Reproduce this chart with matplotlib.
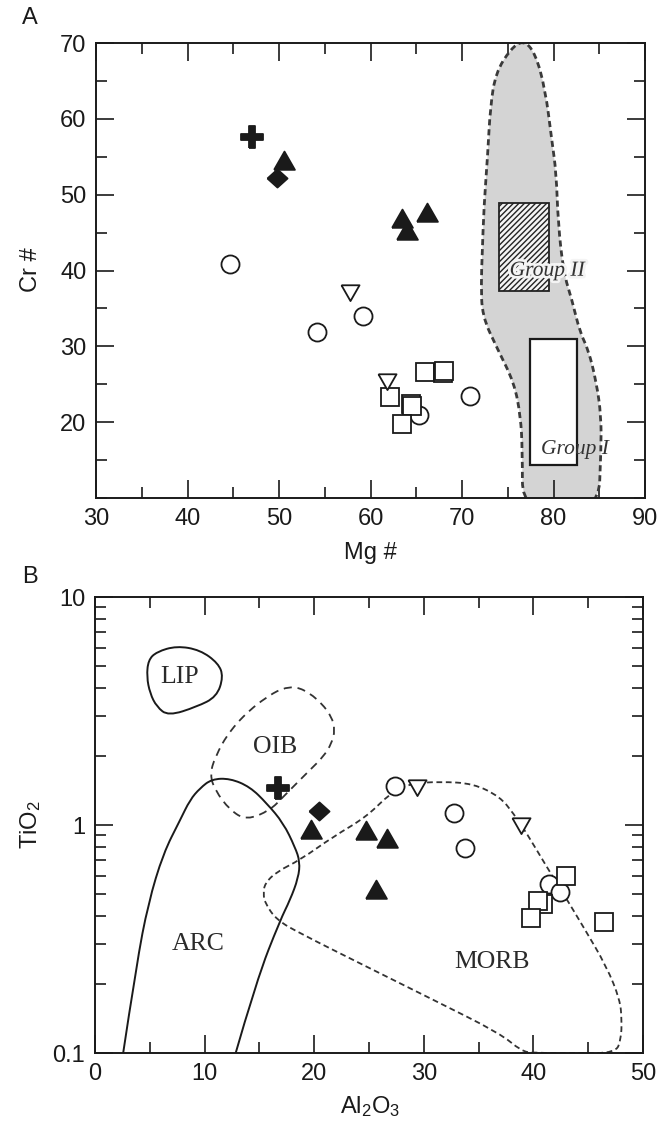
import numpy as np
import matplotlib
matplotlib.use("Agg")
import matplotlib.pyplot as plt
from matplotlib.path import Path
from matplotlib.patches import PathPatch, Rectangle
from matplotlib.ticker import FixedLocator, FixedFormatter, MultipleLocator
import matplotlib.patheffects as pe

plt.rcParams['font.family'] = ['Liberation Sans', 'DejaVu Sans']
plt.rcParams['mathtext.fontset'] = 'custom'
plt.rcParams['mathtext.rm'] = 'Liberation Sans'
plt.rcParams['mathtext.it'] = 'Liberation Sans:italic'
plt.rcParams['hatch.linewidth'] = 1.0

# ---------------- Panel A data (Mg#, Cr#) ----------------
a_circle_mg = [44.6, 54.1, 59.2, 65.3, 70.9]
a_circle_cr = [40.8, 31.9, 34.0, 21.0, 23.4]
a_square_mg = [64.4, 64.5, 62.1, 63.4, 66.0, 67.9, 68.0]
a_square_cr = [22.4, 22.1, 23.3, 19.7, 26.6, 26.5, 26.8]
a_invtri_mg = [57.8, 61.8]
a_invtri_cr = [37.1, 25.4]
a_tri_mg = [50.6, 63.4, 66.2, 64.0]
a_tri_cr = [54.4, 46.8, 47.6, 45.2]
a_diam_mg = [49.8]
a_diam_cr = [52.2]
a_cross_mg = [47.1]
a_cross_cr = [57.6]

# peridotite field (outline)
field_mg = [76.6, 76.6, 76.4, 75.7, 73.9, 72.2, 72.1, 72.2, 72.4, 72.8, 73.1, 73.7, 75.3,
            76.7, 78.0, 79.1, 79.8, 80.3, 80.5, 81.1, 82.0, 82.9, 83.8, 84.7, 85.2, 85.2, 84.9]
field_cr = [8.0, 16.4, 20.8, 25.2, 29.6, 34.0, 38.4, 41.9, 48.5, 55.1, 61.7, 66.1, 69.2,
            70.4, 68.7, 63.9, 57.3, 52.9, 46.3, 39.7, 36.2, 31.8, 29.6, 25.2, 20.8, 16.4, 8.0]
group2_mg = [74.0, 79.5]
group2_cr = [37.3, 48.9]
group1_mg = [77.4, 82.6]
group1_cr = [14.3, 31.0]

# ---------------- Panel B data (Al2O3, TiO2) ----------------
b_cross_al = [16.7]
b_cross_ti = [1.46]
b_diam_al = [20.4]
b_diam_ti = [1.15]
b_tri_al = [19.75, 24.7, 26.6, 25.6]
b_tri_ti = [0.95, 0.94, 0.866, 0.52]
b_circle_al = [27.4, 32.8, 33.8, 41.4, 42.4]
b_circle_ti = [1.48, 1.125, 0.79, 0.55, 0.51]
b_invtri_al = [29.35, 38.9]
b_invtri_ti = [1.47, 1.0]
b_square_al = [43.0, 40.85, 40.4, 39.75, 46.4]
b_square_ti = [0.60, 0.45, 0.466, 0.39, 0.377]

lip_al = [4.86, 5.63, 7.45, 9.58, 11.25, 11.71, 11.10, 9.28, 6.69, 5.63, 5.02, 4.72]
lip_ti = [5.29, 5.75, 6.10, 5.86, 5.12, 4.47, 3.65, 3.30, 3.01, 3.30, 3.78, 4.47]
oib_al = [10.49, 10.95, 12.32, 14.75, 17.79, 20.23, 22.05, 21.44, 19.0, 17.18, 15.97, 13.84, 12.32, 10.95]
oib_ti = [1.66, 1.99, 2.61, 3.42, 4.18, 3.65, 2.79, 2.13, 1.63, 1.33, 1.16, 1.05, 1.16, 1.42]
arc_al = [2.5, 3.80, 4.86, 6.23, 7.76, 8.67, 9.58, 10.65, 12.32, 14.14, 15.67, 17.18,
          18.25, 18.7, 18.55, 17.8, 16.9, 14.75, 12.7]
arc_ti = [0.095, 0.247, 0.454, 0.751, 1.05, 1.29, 1.45, 1.59, 1.60, 1.47, 1.245, 1.02,
          0.80, 0.69, 0.586, 0.469, 0.383, 0.209, 0.095]
morb_al = [16.58, 15.5, 15.36, 15.51, 16.58, 18.70, 24.79, 30.87, 36.95, 38.9, 40.0, 44.0,
           47.5, 48.0, 48.06, 47.9, 46.69, 44.55, 42.73, 41.21, 39.39, 38.17, 36.95, 34.52,
           31.48, 28.74, 26.92, 24.79, 21.74, 18.70]
morb_ti = [0.624, 0.555, 0.50, 0.454, 0.383, 0.335, 0.239, 0.171, 0.122, 0.102, 0.1, 0.1,
           0.1, 0.115, 0.14, 0.171, 0.239, 0.358, 0.50, 0.656, 0.92, 1.125, 1.33, 1.52,
           1.55, 1.52, 1.377, 1.087, 0.889, 0.702]

regions_txt = {'LIP': (7.7, 4.44), 'OIB': (16.4, 2.20), 'ARC': (9.4, 0.30), 'MORB': (36.2, 0.25)}

# ---------------- helpers ----------------
def mid(p, q, logy):
    if logy:
        return ((p[0] + q[0]) / 2, np.sqrt(p[1] * q[1]))
    return ((p[0] + q[0]) / 2, (p[1] + q[1]) / 2)

def smooth_path(xs, ys, closed=True, logy=False):
    pts = list(zip(xs, ys))
    n = len(pts)
    verts, codes = [], []
    if closed:
        mids = [mid(pts[i], pts[(i + 1) % n], logy) for i in range(n)]
        verts.append(mids[-1]); codes.append(Path.MOVETO)
        for i in range(n):
            verts += [pts[i], mids[i]]; codes += [Path.CURVE3, Path.CURVE3]
    else:
        verts.append(pts[0]); codes.append(Path.MOVETO)
        for i in range(1, n - 1):
            end = pts[i + 1] if i == n - 2 else mid(pts[i], pts[i + 1], logy)
            verts += [pts[i], end]; codes += [Path.CURVE3, Path.CURVE3]
    return Path(verts, codes)

s = 0.28
cross_m = [(-s, -1), (s, -1), (s, -s), (1, -s), (1, s), (s, s), (s, 1), (-s, 1), (-s, s), (-1, s), (-1, -s), (-s, -s), (-s, -1)]
tri_up = [(-1, -0.8), (1, -0.8), (0, 0.95), (-1, -0.8)]
tri_dn = [(-1, 0.8), (1, 0.8), (0, -0.95), (-1, 0.8)]
diam_m = [(-1, 0), (0, -0.9), (1, 0), (0, 0.9), (-1, 0)]

INK = '#1a1a1a'

def draw_markers(ax, sets):
    for xs, ys, mk, ms, fc in sets:
        ax.plot(xs, ys, linestyle='none', marker=mk, markersize=ms,
                markerfacecolor=fc, markeredgecolor=INK, markeredgewidth=1.3, zorder=5)

def style_axes(ax):
    for sp in ax.spines.values():
        sp.set_linewidth(1.4); sp.set_color(INK)
    ax.tick_params(which='both', direction='in', top=True, right=True, width=1.2,
                   colors=INK, labelsize=17, pad=7)
    ax.tick_params(which='major', length=13)
    ax.tick_params(which='minor', length=8)

fig = plt.figure(figsize=(6.59, 11.28), dpi=100)
W, H = 659.0, 1128.0

# ---------------- Panel A ----------------
axA = fig.add_axes([96 / W, 1 - 498 / H, 549 / W, 455 / H])
axA.set_xlim(30, 90)
axA.set_ylim(10, 70)
axA.xaxis.set_major_locator(MultipleLocator(10))
axA.xaxis.set_minor_locator(MultipleLocator(5))
axA.yaxis.set_major_locator(FixedLocator([20, 30, 40, 50, 60, 70]))
axA.yaxis.set_minor_locator(MultipleLocator(5))
style_axes(axA)

fpath = smooth_path(field_mg, field_cr, closed=True)
axA.add_patch(PathPatch(fpath, facecolor='#d4d4d4', edgecolor='none', zorder=1))
axA.add_patch(PathPatch(fpath, facecolor='none', edgecolor='#3a3a3a', lw=2.0,
                        linestyle=(0, (2.2, 1.4)), zorder=2))
axA.add_patch(Rectangle((group2_mg[0], group2_cr[0]), group2_mg[1] - group2_mg[0],
                        group2_cr[1] - group2_cr[0], facecolor='#f4f4f4', edgecolor='#222222',
                        hatch='//////', lw=1.3, zorder=3))
axA.add_patch(Rectangle((group1_mg[0], group1_cr[0]), group1_mg[1] - group1_mg[0],
                        group1_cr[1] - group1_cr[0], facecolor='white', edgecolor=INK,
                        lw=1.6, zorder=3))
halo = [pe.withStroke(linewidth=4, foreground='#f4f4f4')]
axA.text(79.3, 39.9, 'Group II', family=['Liberation Serif'], style='italic', fontsize=15.5,
         color='#333333', ha='center', va='center', zorder=6, path_effects=halo)
axA.text(82.3, 16.4, 'Group I', family=['Liberation Serif'], style='italic', fontsize=15.5,
         color='#333333', ha='center', va='center', zorder=6)

draw_markers(axA, [
    (a_circle_mg, a_circle_cr, 'o', 13, 'white'),
    (a_square_mg, a_square_cr, 's', 12.5, 'white'),
    (a_invtri_mg, a_invtri_cr, tri_dn, 13, 'white'),
    (a_tri_mg, a_tri_cr, tri_up, 15, INK),
    (a_diam_mg, a_diam_cr, diam_m, 14.5, INK),
    (a_cross_mg, a_cross_cr, cross_m, 15.5, INK),
])

# ---------------- Panel B ----------------
axB = fig.add_axes([95 / W, 1 - 1053 / H, 548 / W, 456 / H])
axB.set_yscale('log')
axB.set_xlim(0, 50)
axB.set_ylim(0.1, 10)
axB.xaxis.set_major_locator(MultipleLocator(10))
axB.xaxis.set_minor_locator(MultipleLocator(5))
axB.yaxis.set_major_locator(FixedLocator([0.1, 1, 10]))
axB.yaxis.set_major_formatter(FixedFormatter(['0.1', '1', '10']))
axB.yaxis.set_minor_locator(FixedLocator([m * d for d in (0.1, 1) for m in range(2, 10)]))
axB.yaxis.set_minor_formatter(FixedFormatter([]))
style_axes(axB)

axB.add_patch(PathPatch(smooth_path(lip_al, lip_ti, True, True), facecolor='none',
                        edgecolor=INK, lw=1.4, zorder=2))
axB.add_patch(PathPatch(smooth_path(oib_al, oib_ti, True, True), facecolor='none',
                        edgecolor='#333333', lw=1.3, linestyle=(0, (4.5, 3.2)), zorder=2))
axB.add_patch(PathPatch(smooth_path(arc_al, arc_ti, False, True), facecolor='none',
                        edgecolor=INK, lw=1.4, zorder=2))
axB.add_patch(PathPatch(smooth_path(morb_al, morb_ti, True, True), facecolor='none',
                        edgecolor='#333333', lw=1.3, linestyle=(0, (3.2, 2.0)), zorder=2))
for name, (xx, yy) in regions_txt.items():
    axB.text(xx, yy, name, family=['Liberation Serif'], fontsize=18.5, color='#2a2a2a',
             ha='center', va='center', zorder=3)

draw_markers(axB, [
    (b_circle_al, b_circle_ti, 'o', 13, 'white'),
    (b_square_al, b_square_ti, 's', 12.5, 'white'),
    (b_invtri_al, b_invtri_ti, tri_dn, 13, 'white'),
    (b_tri_al, b_tri_ti, tri_up, 15, INK),
    (b_diam_al, b_diam_ti, diam_m, 14.5, INK),
    (b_cross_al, b_cross_ti, cross_m, 15.5, INK),
])

# ---------------- labels ----------------
fs = 17
fig.text(30 / W, 1 - 18 / H, 'A', fontsize=fs, ha='center', va='center', color=INK)
fig.text(30 / W, 1 - 577 / H, 'B', fontsize=fs, ha='center', va='center', color=INK)
fig.text(31 / W, 1 - 270 / H, 'Cr #', fontsize=fs, rotation=90, ha='center', va='center', color=INK)
fig.text(370 / W, 1 - 553 / H, 'Mg #', fontsize=fs, ha='center', va='center', color=INK)
fig.text(31 / W, 1 - 825 / H, 'TiO$_2$', fontsize=fs, rotation=90, ha='center', va='center', color=INK)
fig.text(370 / W, 1 - 1107 / H, 'Al$_2$O$_3$', fontsize=fs, ha='center', va='center', color=INK)

fig.savefig('out.png', dpi=100)
